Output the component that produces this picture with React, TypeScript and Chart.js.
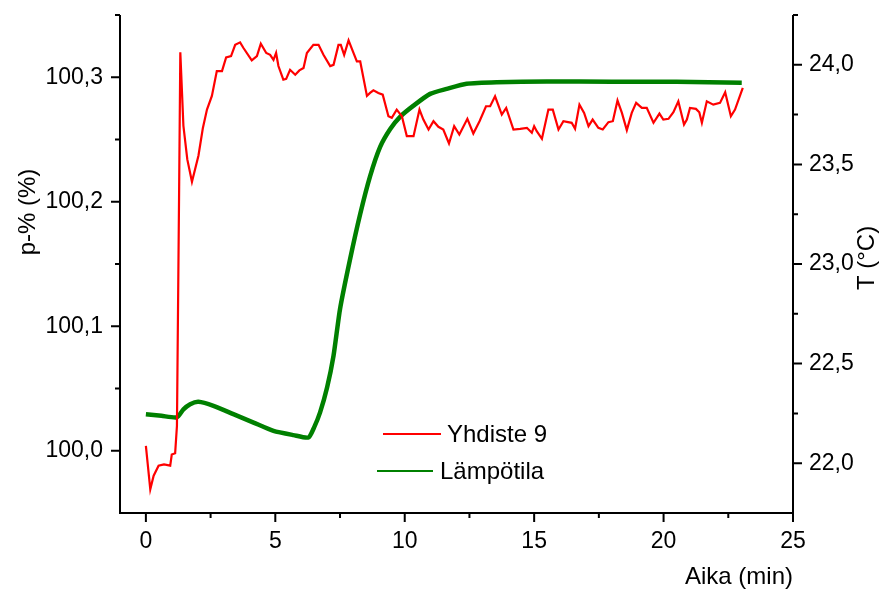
import React, { useEffect, useRef } from "react";
import { Chart, registerables } from "chart.js";

Chart.register(...registerables);

// ---- Data ----
const seriesLabels = ["Yhdiste 9", "Lämpötila"];

const redTime = [
  0.0, 0.17, 0.3, 0.49, 0.7, 0.94, 1.0, 1.13, 1.2, 1.28, 1.33, 1.45, 1.6, 1.78,
  2.03, 2.2, 2.36, 2.55, 2.74, 2.94, 3.1, 3.29, 3.45, 3.64, 3.77, 4.09, 4.29,
  4.44, 4.65, 4.8, 4.93, 5.03, 5.12, 5.31, 5.42, 5.57, 5.77, 5.93, 6.09, 6.22,
  6.47, 6.67, 6.86, 7.12, 7.25, 7.44, 7.53, 7.66, 7.83, 8.02, 8.15, 8.28, 8.54,
  8.66, 8.79, 8.98, 9.15, 9.37, 9.5, 9.69, 9.89, 10.08, 10.34, 10.57, 10.72,
  10.92, 11.11, 11.3, 11.49, 11.71, 11.91, 12.11, 12.42, 12.65, 12.89, 13.14,
  13.3, 13.49, 13.75, 13.92, 14.2, 14.46, 14.72, 14.91, 15.0, 15.1, 15.3,
  15.55, 15.72, 15.94, 16.13, 16.45, 16.58, 16.75, 16.93, 17.1, 17.26, 17.48,
  17.65, 17.87, 18.04, 18.22, 18.39, 18.58, 18.77, 18.94, 19.16, 19.35, 19.61,
  19.84, 19.99, 20.19, 20.38, 20.57, 20.79, 20.9, 21.02, 21.25, 21.38, 21.48,
  21.67, 21.92, 22.18, 22.38, 22.6, 22.76, 23.06,
];
const redValue = [
  100.004, 99.969, 99.98, 99.988, 99.989, 99.988, 99.997, 99.998, 100.02,
  100.2, 100.32, 100.261, 100.234, 100.216, 100.237, 100.259, 100.274, 100.285,
  100.305, 100.305, 100.316, 100.317, 100.326, 100.328, 100.3235, 100.3136,
  100.317, 100.327, 100.3195, 100.318, 100.314, 100.3195, 100.309, 100.298,
  100.2987, 100.306, 100.302, 100.3055, 100.3074, 100.3195, 100.326, 100.326,
  100.318, 100.309, 100.31, 100.326, 100.326, 100.318, 100.3296, 100.3195,
  100.3127, 100.3127, 100.285, 100.2874, 100.2895, 100.2874, 100.286, 100.2687,
  100.2674, 100.274, 100.2687, 100.2527, 100.2527, 100.274, 100.266, 100.258,
  100.2647, 100.2602, 100.258, 100.2468, 100.2607, 100.254, 100.2666, 100.2548,
  100.2647, 100.2767, 100.2767, 100.2847, 100.27, 100.2754, 100.258, 100.2586,
  100.2594, 100.2554, 100.2607, 100.2567, 100.2506, 100.274, 100.274, 100.258,
  100.2647, 100.2634, 100.2586, 100.278, 100.2714, 100.2607, 100.266, 100.2594,
  100.258, 100.2639, 100.2647, 100.2813, 100.2714, 100.2575, 100.2714,
  100.2794, 100.2754, 100.2754, 100.2634, 100.2708, 100.266, 100.2666,
  100.2719, 100.2807, 100.262, 100.266, 100.2754, 100.2746, 100.2719, 100.2634,
  100.2807, 100.278, 100.2794, 100.288, 100.2687, 100.274, 100.2914,
];

const greenTime = [
  0.0, 0.6, 1.2, 1.45, 1.71, 2.03, 2.61, 3.38, 4.16, 4.93, 5.7, 6.28, 6.5,
  6.73, 7.0, 7.25, 7.5, 7.89, 8.28, 8.66, 9.05, 9.44, 9.82, 10.34, 10.98,
  11.62, 12.39, 13.55, 15.49, 18.0, 20.5, 23.02,
];
const greenValue = [
  22.246, 22.238, 22.23, 22.27, 22.296, 22.308, 22.288, 22.246, 22.204, 22.162,
  22.141, 22.129, 22.18, 22.255, 22.38, 22.54, 22.774, 23.025, 23.251, 23.44,
  23.588, 23.678, 23.739, 23.795, 23.854, 23.879, 23.905, 23.913, 23.916,
  23.915, 23.915, 23.91,
];

// ---- Axes ----
const xRange = [-1, 25];
const leftRange = [99.95, 100.35];
const rightRange = [21.75, 24.25];
const xTickValues = [0, 5, 10, 15, 20, 25];
const xMinorValues = [2.5, 7.5, 12.5, 17.5, 22.5];
const leftTickValues = [100.0, 100.1, 100.2, 100.3];
const leftMinorValues = [100.05, 100.15, 100.25, 100.35];
const rightTickValues = [22.0, 22.5, 23.0, 23.5, 24.0];
const rightMinorValues = [22.25, 22.75, 23.25, 23.75, 24.25];
const xTitle = "Aika (min)";
const leftTitle = "p-% (%)";
const rightTitle = "T (°C)";

const FONT = "'Liberation Sans', Arial, sans-serif";
const RED = "#ff0000";
const GREEN = "#008000";

const comma = (v: number) => v.toFixed(1).replace(".", ",");

const axesPlugin = {
  id: "originAxes",
  afterDraw(chart: any) {
    const ctx = chart.ctx as CanvasRenderingContext2D;
    const { left, right, top, bottom } = chart.chartArea;
    const xs = chart.scales.x;
    const yl = chart.scales.yL;
    const yr = chart.scales.yR;
    const MAJ = 9;
    const MIN = 5;
    ctx.save();
    ctx.strokeStyle = "#000";
    ctx.lineWidth = 2;
    ctx.beginPath();
    ctx.moveTo(left, top);
    ctx.lineTo(left, bottom + 1);
    ctx.moveTo(right, top);
    ctx.lineTo(right, bottom + 1);
    ctx.moveTo(left - 1, bottom);
    ctx.lineTo(right + 1, bottom);
    xTickValues.forEach((v) => {
      const p = xs.getPixelForValue(v);
      ctx.moveTo(p, bottom);
      ctx.lineTo(p, bottom + MAJ);
    });
    xMinorValues.forEach((v) => {
      const p = xs.getPixelForValue(v);
      ctx.moveTo(p, bottom);
      ctx.lineTo(p, bottom + MIN);
    });
    leftTickValues.forEach((v) => {
      const p = yl.getPixelForValue(v);
      ctx.moveTo(left, p);
      ctx.lineTo(left - MAJ, p);
    });
    leftMinorValues.forEach((v) => {
      const p = yl.getPixelForValue(v);
      ctx.moveTo(left, p);
      ctx.lineTo(left - MIN, p);
    });
    rightTickValues.forEach((v) => {
      const p = yr.getPixelForValue(v);
      ctx.moveTo(right, p);
      ctx.lineTo(right + MAJ, p);
    });
    rightMinorValues.forEach((v) => {
      const p = yr.getPixelForValue(v);
      ctx.moveTo(right, p);
      ctx.lineTo(right + MIN, p);
    });
    ctx.stroke();

    // vertical axis titles
    ctx.fillStyle = "#000";
    ctx.font = `24px ${FONT}`;
    ctx.textAlign = "center";
    ctx.textBaseline = "middle";
    ctx.save();
    ctx.translate(28, 212);
    ctx.rotate(-Math.PI / 2);
    ctx.fillText(leftTitle, 0, 0);
    ctx.restore();
    ctx.save();
    ctx.translate(867, 258);
    ctx.rotate(-Math.PI / 2);
    ctx.fillText(rightTitle, 0, 0);
    ctx.restore();

    // legend
    const items = [
      { color: RED, x0: 383, x1: 441, ly: 434, tx: 447, ty: 435 },
      { color: GREEN, x0: 377, x1: 433, ly: 471, tx: 440, ty: 472 },
    ];
    ctx.textAlign = "left";
    items.forEach((it, i) => {
      ctx.strokeStyle = it.color;
      ctx.lineWidth = 2;
      ctx.beginPath();
      ctx.moveTo(it.x0, it.ly);
      ctx.lineTo(it.x1, it.ly);
      ctx.stroke();
      ctx.fillStyle = "#000";
      ctx.fillText(chart.data.datasets[i].label, it.tx, it.ty);
    });
    ctx.restore();
  },
};

export default function App() {
  const ref = useRef<HTMLCanvasElement | null>(null);
  useEffect(() => {
    document.body.style.margin = "0";
    const canvas = ref.current;
    if (!canvas) return;
    const chart = new Chart(canvas, {
      type: "line",
      data: {
        datasets: [
          {
            label: seriesLabels[0],
            data: redTime.map((t, i) => ({ x: t, y: redValue[i] })),
            borderColor: RED,
            backgroundColor: RED,
            borderWidth: 2.2,
            pointRadius: 0,
            tension: 0,
            yAxisID: "yL",
          },
          {
            label: seriesLabels[1],
            data: greenTime.map((t, i) => ({ x: t, y: greenValue[i] })),
            borderColor: GREEN,
            backgroundColor: GREEN,
            borderWidth: 4.5,
            pointRadius: 0,
            tension: 0.2,
            yAxisID: "yR",
          },
        ],
      },
      options: {
        animation: false,
        responsive: false,
        maintainAspectRatio: false,
        layout: { padding: { top: 15, left: 0, right: 0, bottom: 0 } },
        plugins: { legend: { display: false }, tooltip: { enabled: false } },
        scales: {
          x: {
            type: "linear",
            min: xRange[0],
            max: xRange[1],
            grid: { display: false, drawTicks: false, tickLength: 0 },
            border: { display: false },
            afterBuildTicks: (s: any) => {
              s.ticks = xTickValues.map((v) => ({ value: v }));
            },
            afterFit: (s: any) => {
              s.height = 82;
              s.paddingLeft = 0;
              s.paddingRight = 0;
            },
            ticks: {
              autoSkip: false,
              maxRotation: 0,
              padding: 15,
              color: "#000",
              font: { family: FONT, size: 23 },
              callback: (v: any) => String(v),
            },
            title: {
              display: true,
              text: xTitle,
              align: "end",
              color: "#000",
              font: { family: FONT, size: 24 },
              padding: { top: 0, bottom: 3 },
            },
          },
          yL: {
            type: "linear",
            position: "left",
            min: leftRange[0],
            max: leftRange[1],
            grid: { display: false, drawTicks: false, tickLength: 0 },
            border: { display: false },
            afterBuildTicks: (s: any) => {
              s.ticks = leftTickValues.map((v) => ({ value: v }));
            },
            afterFit: (s: any) => {
              s.width = 120;
              s.paddingTop = 0;
              s.paddingBottom = 0;
            },
            ticks: {
              autoSkip: false,
              padding: 17,
              color: "#000",
              font: { family: FONT, size: 23 },
              callback: (v: any) => comma(Number(v)),
            },
          },
          yR: {
            type: "linear",
            position: "right",
            min: rightRange[0],
            max: rightRange[1],
            grid: { display: false, drawTicks: false, tickLength: 0 },
            border: { display: false },
            afterBuildTicks: (s: any) => {
              s.ticks = rightTickValues.map((v) => ({ value: v }));
            },
            afterFit: (s: any) => {
              s.width = 92;
              s.paddingTop = 0;
              s.paddingBottom = 0;
            },
            ticks: {
              autoSkip: false,
              padding: 16,
              color: "#000",
              font: { family: FONT, size: 23 },
              callback: (v: any) => comma(Number(v)),
            },
          },
        },
      },
      plugins: [axesPlugin],
    } as any);
    return () => chart.destroy();
  }, []);
  return (
    <div style={{ width: 885, height: 595, background: "#fff" }}>
      <canvas ref={ref} width={885} height={595} />
    </div>
  );
}
